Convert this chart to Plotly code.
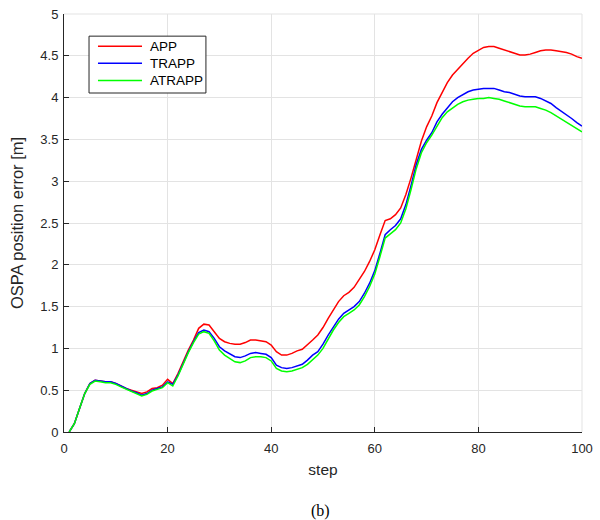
import plotly.graph_objects as go

# OSPA position error per time step for the three filters
steps = list(range(1, 101))

app = [
    0.00, 0.10, 0.28, 0.46, 0.58, 0.62, 0.61, 0.60, 0.60, 0.58,
    0.55, 0.52, 0.50, 0.48, 0.46, 0.48, 0.52, 0.53, 0.56, 0.63,
    0.58, 0.70, 0.85, 0.98, 1.10, 1.24, 1.29, 1.28, 1.20, 1.12,
    1.08, 1.06, 1.05, 1.05, 1.07, 1.10, 1.10, 1.09, 1.08, 1.04,
    0.96, 0.92, 0.92, 0.94, 0.97, 0.99, 1.04, 1.10, 1.16, 1.25,
    1.36, 1.46, 1.56, 1.63, 1.67, 1.73, 1.82, 1.92, 2.04, 2.18,
    2.36, 2.53, 2.55, 2.60, 2.68, 2.84, 3.04, 3.25, 3.48, 3.65,
    3.78, 3.94, 4.06, 4.18, 4.27, 4.34, 4.41, 4.47, 4.53, 4.57,
    4.60, 4.61, 4.61, 4.59, 4.57, 4.55, 4.53, 4.51, 4.51, 4.52,
    4.54, 4.56, 4.57, 4.57, 4.56, 4.55, 4.54, 4.52, 4.49, 4.47,
]

trapp = [
    0.00, 0.10, 0.28, 0.46, 0.58, 0.62, 0.61, 0.60, 0.60, 0.58,
    0.55, 0.52, 0.49, 0.47, 0.44, 0.46, 0.50, 0.52, 0.54, 0.60,
    0.57, 0.68, 0.83, 0.96, 1.08, 1.19, 1.22, 1.20, 1.12, 1.02,
    0.97, 0.93, 0.90, 0.89, 0.91, 0.94, 0.95, 0.94, 0.93, 0.89,
    0.80, 0.77, 0.76, 0.77, 0.79, 0.81, 0.86, 0.92, 0.96, 1.05,
    1.16, 1.26, 1.35, 1.42, 1.46, 1.50, 1.56, 1.66, 1.78, 1.93,
    2.14, 2.36, 2.42, 2.47, 2.55, 2.72, 2.95, 3.20, 3.38, 3.49,
    3.58, 3.71, 3.80, 3.88, 3.95, 4.00, 4.04, 4.07, 4.09, 4.10,
    4.11, 4.11, 4.11, 4.09, 4.07, 4.06, 4.04, 4.02, 4.01, 4.01,
    4.01, 3.99, 3.96, 3.93, 3.88, 3.84, 3.79, 3.75, 3.70, 3.66,
]

atrapp = [
    0.00, 0.10, 0.28, 0.46, 0.57, 0.61, 0.60, 0.59, 0.59, 0.57,
    0.54, 0.51, 0.48, 0.46, 0.43, 0.45, 0.49, 0.51, 0.53, 0.59,
    0.55, 0.67, 0.82, 0.95, 1.07, 1.17, 1.20, 1.18, 1.09, 0.98,
    0.92, 0.88, 0.84, 0.83, 0.85, 0.89, 0.90, 0.90, 0.89, 0.85,
    0.76, 0.73, 0.72, 0.73, 0.75, 0.77, 0.81, 0.87, 0.92, 1.00,
    1.11, 1.22, 1.31, 1.38, 1.42, 1.46, 1.52, 1.62, 1.74, 1.89,
    2.10, 2.32, 2.37, 2.42, 2.50, 2.67, 2.90, 3.15, 3.34, 3.46,
    3.55, 3.66, 3.76, 3.83, 3.88, 3.92, 3.95, 3.97, 3.98, 3.99,
    3.99, 4.00, 3.99, 3.98, 3.96, 3.94, 3.92, 3.90, 3.89, 3.89,
    3.89, 3.87, 3.85, 3.82, 3.78, 3.74, 3.70, 3.66, 3.62, 3.59,
]

x_ticks = [0, 20, 40, 60, 80, 100]
y_ticks = [0, 0.5, 1, 1.5, 2, 2.5, 3, 3.5, 4, 4.5, 5]
y_tick_text = ["0", "0.5", "1", "1.5", "2", "2.5", "3", "3.5", "4", "4.5", "5"]

series_names = ["APP", "TRAPP", "ATRAPP"]
series_values = [app, trapp, atrapp]
series_colors = ["#ff0000", "#0000ff", "#00ff00"]

SANS = "Liberation Sans, Arial, sans-serif"
AXIS_GREY = "#262626"
GRID_GREY = "#e3e3e3"

fig = go.Figure()
for name, vals, color in zip(series_names, series_values, series_colors):
    fig.add_trace(go.Scatter(
        x=steps, y=vals, mode="lines", name=name,
        line=dict(color=color, width=1.5),
        showlegend=False,
    ))

# Boxed legend in the upper-left corner of the axes
shapes = [
    # light frame along the top and right edges of the axes
    dict(type="line", xref="paper", yref="paper", x0=0, x1=1, y0=1, y1=1,
         line=dict(color=GRID_GREY, width=1), layer="below"),
    dict(type="line", xref="paper", yref="paper", x0=1, x1=1, y0=0, y1=1,
         line=dict(color=GRID_GREY, width=1), layer="below"),
    dict(type="rect", xref="paper", yref="paper", x0=0.0483, x1=0.274, y0=0.811, y1=0.947,
         line=dict(color=AXIS_GREY, width=1), fillcolor="white", layer="above"),
]
annotations = []
row_y = [0.923, 0.882, 0.841]
for name, color, ry in zip(series_names, series_colors, row_y):
    shapes.append(dict(type="line", xref="paper", yref="paper", x0=0.0656, x1=0.1506,
                       y0=ry, y1=ry, line=dict(color=color, width=1.5), layer="above"))
    annotations.append(dict(text=name, xref="paper", yref="paper", x=0.162, y=ry,
                            xanchor="left", yanchor="middle", showarrow=False,
                            font=dict(family=SANS, size=13.5, color="#000000")))

annotations.append(dict(
    text="(b)", xref="paper", yref="paper", x=0.495, y=-0.188,
    xanchor="center", yanchor="middle", showarrow=False,
    font=dict(family="Liberation Serif, Times New Roman, serif", size=16, color="#000000"),
))

fig.update_layout(
    width=600, height=520,
    margin=dict(l=64, r=18, t=14, b=88, autoexpand=False),
    paper_bgcolor="white", plot_bgcolor="white",
    font=dict(family=SANS, size=13, color=AXIS_GREY),
    showlegend=False,
    xaxis=dict(
        range=[0, 100], tickvals=x_ticks, automargin=False,
        showgrid=True, gridcolor=GRID_GREY, gridwidth=1,
        showline=True, linecolor=AXIS_GREY, linewidth=1,
        ticks="inside", ticklen=5, tickcolor=AXIS_GREY,
        ticklabelstandoff=4,
        zeroline=False,
        title=dict(text="step", font=dict(size=15.5, color=AXIS_GREY), standoff=9),
    ),
    yaxis=dict(
        range=[0, 5], tickvals=y_ticks, ticktext=y_tick_text, automargin=False,
        showgrid=True, gridcolor=GRID_GREY, gridwidth=1,
        showline=True, linecolor=AXIS_GREY, linewidth=1,
        ticks="inside", ticklen=5, tickcolor=AXIS_GREY,
        ticklabelstandoff=2,
        zeroline=False,
        title=dict(text="OSPA position error [m]", font=dict(size=16.5, color=AXIS_GREY), standoff=12),
    ),
    shapes=shapes,
    annotations=annotations,
)

fig.write_html("out.html")
